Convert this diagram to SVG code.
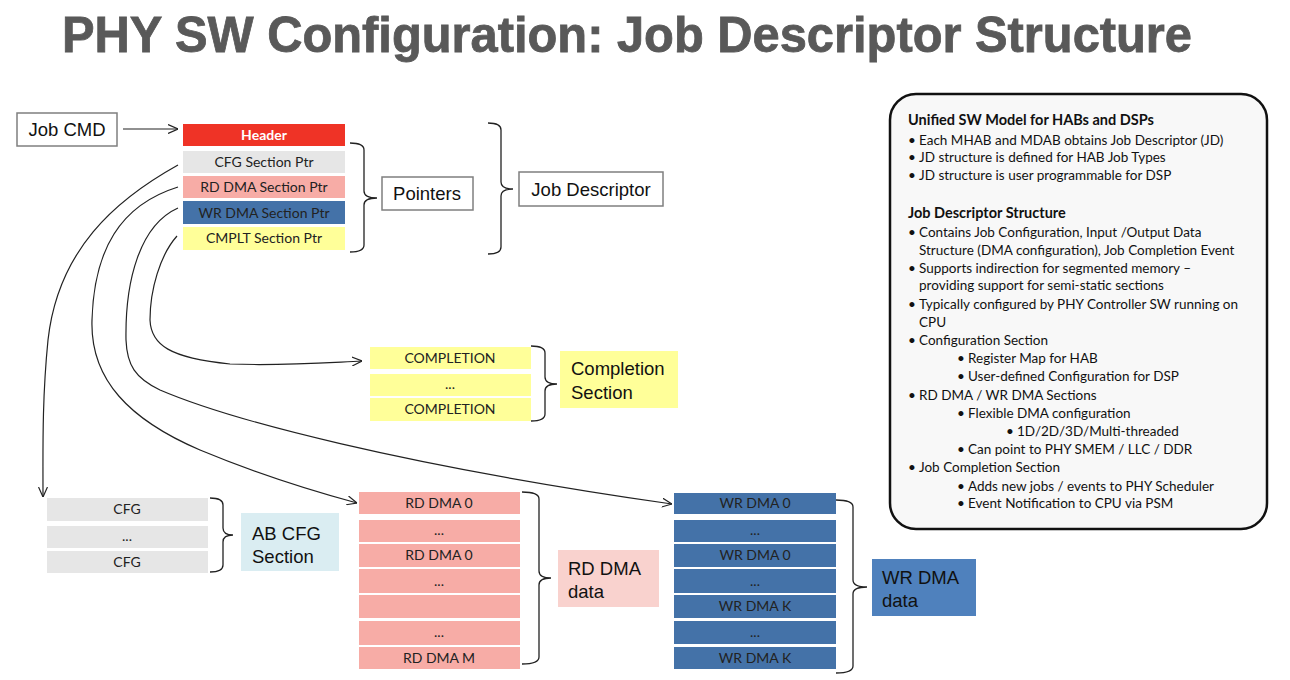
<svg xmlns="http://www.w3.org/2000/svg" width="1290" height="680" viewBox="0 0 1290 680">
<defs>
<marker id="arr" viewBox="0 0 10 10" refX="10" refY="5" markerWidth="10" markerHeight="10" markerUnits="userSpaceOnUse" orient="auto">
<path d="M0,0.5 L10,5 L0,9.5" fill="none" stroke="#222" stroke-width="1.2"/>
</marker>
<style>
.title{font-family:"Liberation Sans",Arial,sans-serif;font-weight:bold;font-size:50px;fill:#595959;stroke:#595959;stroke-width:0.8}
.lbl{font-family:"Liberation Sans",Arial,sans-serif;font-size:18.5px;fill:#111}
.box{fill:#fff;stroke:#7f7f7f;stroke-width:1.5}
.cell{font-family:Lato,"Open Sans",sans-serif;font-size:14px;fill:#222;text-anchor:middle}
.brace{fill:none;stroke:#222;stroke-width:1.3}
.con{fill:none;stroke:#222;stroke-width:1.2;marker-end:url(#arr)}
.grey{fill:#e6e6e6}
.pink{fill:#f7aca6}
.blue{fill:#4472a8}
.yel{fill:#ffff99}
.pt{font-family:Lato,"Open Sans",sans-serif;font-size:13.5px;fill:#111}
.ph{font-family:Lato,"Open Sans",sans-serif;font-size:14.5px;font-weight:bold;fill:#111}
</style>
</defs>
<rect width="1290" height="680" fill="#fff"/>
<text class="title" x="62" y="52" textLength="1130" lengthAdjust="spacingAndGlyphs">PHY SW Configuration: Job Descriptor Structure</text>

<g id="connectors">
<line class="con" x1="123" y1="129" x2="178" y2="129"/>
<path class="con" d="M178,165 C115,200 58,250 48,340 C42,400 43,450 43,497"/>
<path class="con" d="M178,187 C120,205 94,250 92,320 C90,380 130,420 200,450 C260,475 320,493 357,503"/>
<path class="con" d="M178,208 C140,225 125,280 126,340 C127,365 135,378 160,390 C230,420 400,465 672,504"/>
<path class="con" d="M177,236 C160,255 150,290 150,320 C151,345 170,358 230,364 C280,366 320,363 362,361"/>
</g>

<g id="job-cmd">
<rect class="box" x="17" y="113" width="100" height="33"/>
<text class="lbl" x="67" y="136" text-anchor="middle">Job CMD</text>
</g>

<g id="job-descriptor-table">
<rect x="183" y="124" width="162" height="22" fill="#ef3326"/>
<text class="cell" x="264" y="140" style="fill:#fff;font-weight:bold">Header</text>
<rect class="grey" x="183" y="151" width="162" height="22"/>
<text class="cell" x="264" y="167">CFG Section Ptr</text>
<rect class="pink" x="183" y="176" width="162" height="22"/>
<text class="cell" x="264" y="192">RD DMA Section Ptr</text>
<rect class="blue" x="183" y="201" width="162" height="23"/>
<text class="cell" x="264" y="218">WR DMA Section Ptr</text>
<rect class="yel" x="183" y="227" width="162" height="23"/>
<text class="cell" x="264" y="243">CMPLT Section Ptr</text>
</g>

<g id="pointers">
<path class="brace" d="M350,143 Q364,143 364,150 L364,191 Q364,198 377,198 Q364,198 364,205 L364,245 Q364,252 350,252"/>
<rect class="box" x="382" y="177" width="91" height="33"/>
<text class="lbl" x="427" y="200" text-anchor="middle">Pointers</text>
</g>

<g id="job-descriptor">
<path class="brace" d="M488,123 Q501,123 501,130 L501,182 Q501,189 513,189 Q501,189 501,196 L501,247 Q501,254 488,254"/>
<rect class="box" x="519" y="172" width="144" height="34"/>
<text class="lbl" x="591" y="196" text-anchor="middle">Job Descriptor</text>
</g>

<g id="completion-section">
<rect class="yel" x="370" y="347" width="161" height="22"/>
<text class="cell" x="450" y="363">COMPLETION</text>
<rect class="yel" x="370" y="374" width="161" height="22"/>
<text class="cell" x="450" y="389">...</text>
<rect class="yel" x="370" y="398" width="161" height="23"/>
<text class="cell" x="450" y="414">COMPLETION</text>
<path class="brace" d="M531,346 Q545,346 545,353 L545,377 Q545,384 557,384 Q545,384 545,391 L545,414 Q545,421 531,421"/>
<rect class="yel" x="560" y="351" width="118" height="57"/>
<text class="lbl" x="571" y="375">Completion</text>
<text class="lbl" x="571" y="399">Section</text>
</g>

<g id="ab-cfg-section">
<rect class="grey" x="47" y="498" width="161" height="23"/>
<text class="cell" x="127" y="514">CFG</text>
<rect class="grey" x="47" y="526" width="161" height="22"/>
<text class="cell" x="127" y="541">...</text>
<rect class="grey" x="47" y="551" width="161" height="22"/>
<text class="cell" x="127" y="567">CFG</text>
<path class="brace" d="M210,498 Q223,498 223,505 L223,528 Q223,535 233,535 Q223,535 223,542 L223,565 Q223,572 210,572"/>
<rect x="241" y="513" width="98" height="58" fill="#daedf2"/>
<text class="lbl" x="252" y="540">AB CFG</text>
<text class="lbl" x="252" y="563">Section</text>
</g>

<g id="rd-dma-data">
<rect class="pink" x="359" y="492" width="161" height="22"/>
<text class="cell" x="439" y="508">RD DMA 0</text>
<rect class="pink" x="359" y="520" width="161" height="22"/>
<text class="cell" x="439" y="535">...</text>
<rect class="pink" x="359" y="544" width="161" height="23"/>
<text class="cell" x="439" y="560">RD DMA 0</text>
<rect class="pink" x="359" y="569" width="161" height="24"/>
<text class="cell" x="439" y="586">...</text>
<rect class="pink" x="359" y="595" width="161" height="23"/>
<rect class="pink" x="359" y="621" width="161" height="24"/>
<text class="cell" x="439" y="637">...</text>
<rect class="pink" x="359" y="647" width="161" height="22"/>
<text class="cell" x="439" y="663">RD DMA M</text>
<path class="brace" d="M522,492 Q539,492 539,499 L539,571 Q539,578 551,578 Q539,578 539,585 L539,657 Q539,664 522,664"/>
<rect x="558" y="550" width="101" height="57" fill="#f9d2ce"/>
<text class="lbl" x="568" y="575">RD DMA</text>
<text class="lbl" x="568" y="598">data</text>
</g>

<g id="wr-dma-data">
<rect class="blue" x="674" y="493" width="162" height="21"/>
<text class="cell" x="755" y="508">WR DMA 0</text>
<rect class="blue" x="674" y="520" width="162" height="22"/>
<text class="cell" x="755" y="535">...</text>
<rect class="blue" x="674" y="544" width="162" height="23"/>
<text class="cell" x="755" y="560">WR DMA 0</text>
<rect class="blue" x="674" y="569" width="162" height="24"/>
<text class="cell" x="755" y="586">...</text>
<rect class="blue" x="674" y="595" width="162" height="23"/>
<text class="cell" x="755" y="611">WR DMA K</text>
<rect class="blue" x="674" y="621" width="162" height="23"/>
<text class="cell" x="755" y="637">...</text>
<rect class="blue" x="674" y="647" width="162" height="22"/>
<text class="cell" x="755" y="663">WR DMA K</text>
<path class="brace" d="M836,500 Q853,500 853,507 L853,580 Q853,587 867,587 Q853,587 853,594 L853,666 Q853,673 836,673"/>
<rect x="872" y="559" width="104" height="57" fill="#4f81bd"/>
<text class="lbl" x="882" y="584">WR DMA</text>
<text class="lbl" x="882" y="607">data</text>
</g>

<g id="info-panel">
<rect x="890" y="94" width="377" height="435" rx="26" ry="26" fill="#f8f8f8" stroke="#111" stroke-width="2.5"/>
<text class="ph" x="908" y="125">Unified SW Model for HABs and DSPs</text>
<text class="pt" x="908" y="145">•</text><text class="pt" x="919" y="145">Each MHAB and MDAB obtains Job Descriptor (JD)</text>
<text class="pt" x="908" y="162">•</text><text class="pt" x="919" y="162">JD structure is defined for HAB Job Types</text>
<text class="pt" x="908" y="180">•</text><text class="pt" x="919" y="180">JD structure is user programmable for DSP</text>
<text class="ph" x="908" y="218">Job Descriptor Structure</text>
<text class="pt" x="908" y="237">•</text><text class="pt" x="919" y="237">Contains Job Configuration, Input /Output Data</text>
<text class="pt" x="919" y="255">Structure (DMA configuration), Job Completion Event</text>
<text class="pt" x="908" y="273">•</text><text class="pt" x="919" y="273">Supports indirection for segmented memory –</text>
<text class="pt" x="919" y="290">providing support for semi-static sections</text>
<text class="pt" x="908" y="309">•</text><text class="pt" x="919" y="309">Typically configured by PHY Controller SW running on</text>
<text class="pt" x="919" y="327">CPU</text>
<text class="pt" x="908" y="345">•</text><text class="pt" x="919" y="345">Configuration Section</text>
<text class="pt" x="957" y="363">•</text><text class="pt" x="968" y="363">Register Map for HAB</text>
<text class="pt" x="957" y="381">•</text><text class="pt" x="968" y="381">User-defined Configuration for DSP</text>
<text class="pt" x="908" y="400">•</text><text class="pt" x="919" y="400">RD DMA / WR DMA Sections</text>
<text class="pt" x="957" y="418">•</text><text class="pt" x="968" y="418">Flexible DMA configuration</text>
<text class="pt" x="1006" y="436">•</text><text class="pt" x="1017" y="436">1D/2D/3D/Multi-threaded</text>
<text class="pt" x="957" y="454">•</text><text class="pt" x="968" y="454">Can point to PHY SMEM / LLC / DDR</text>
<text class="pt" x="908" y="472">•</text><text class="pt" x="919" y="472">Job Completion Section</text>
<text class="pt" x="957" y="491">•</text><text class="pt" x="968" y="491">Adds new jobs / events to PHY Scheduler</text>
<text class="pt" x="957" y="508">•</text><text class="pt" x="968" y="508">Event Notification to CPU via PSM</text>
</g>
</svg>
